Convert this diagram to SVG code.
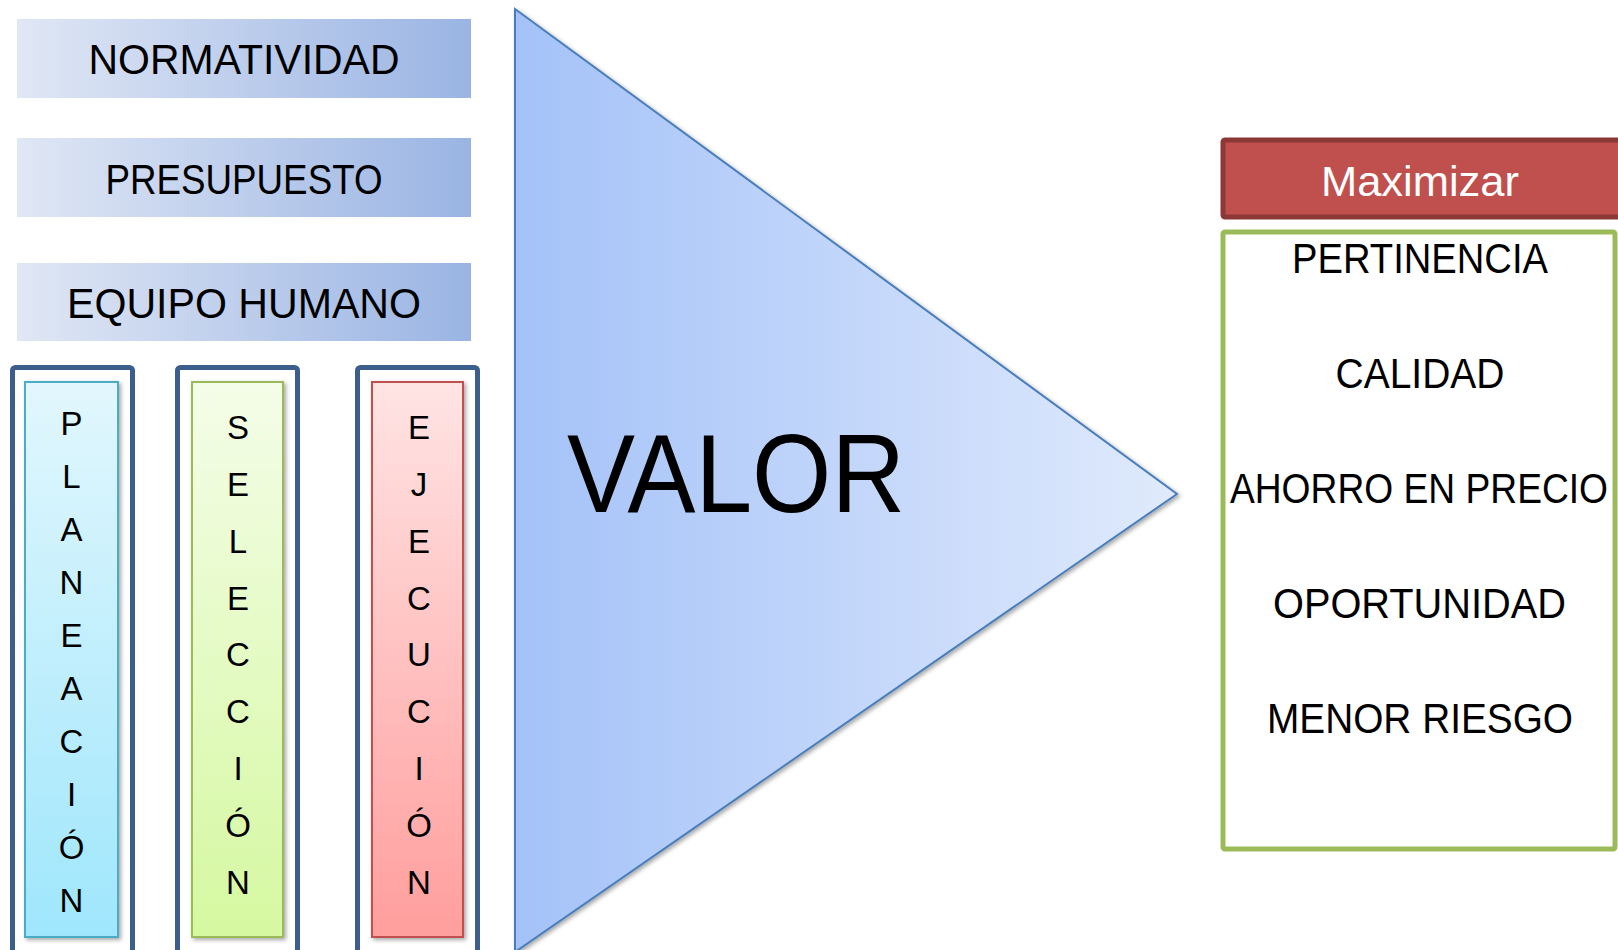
<svg xmlns="http://www.w3.org/2000/svg" width="1618" height="950" viewBox="0 0 1618 950">
<style>
.t{font-family:"Liberation Sans",Arial,sans-serif;fill:#000;text-anchor:middle}
.h{font-size:43px}
.v{font-size:33px}
.frame{fill:#fff;stroke:#3b5e8c;stroke-width:5}
</style>
<defs>
<linearGradient id="gTop" x1="0" y1="0" x2="1" y2="0">
<stop offset="0" stop-color="#e0e7f5"/><stop offset="1" stop-color="#9ab4e3"/>
</linearGradient>
<linearGradient id="gTri" x1="0" y1="0" x2="1" y2="0">
<stop offset="0" stop-color="#a4c2f8"/><stop offset="1" stop-color="#e0eafc"/>
</linearGradient>
<linearGradient id="gBlue" x1="0" y1="0" x2="0" y2="1">
<stop offset="0" stop-color="#e2f7fd"/><stop offset="1" stop-color="#9fe6fc"/>
</linearGradient>
<linearGradient id="gGreen" x1="0" y1="0" x2="0" y2="1">
<stop offset="0" stop-color="#f4fde8"/><stop offset="1" stop-color="#d5f8a0"/>
</linearGradient>
<linearGradient id="gRed" x1="0" y1="0" x2="0" y2="1">
<stop offset="0" stop-color="#ffe4e4"/><stop offset="1" stop-color="#ff9e9d"/>
</linearGradient>
<filter id="sh" x="-10%" y="-10%" width="125%" height="125%">
<feDropShadow dx="2" dy="2" stdDeviation="2" flood-color="#000" flood-opacity="0.35"/>
</filter>
</defs>

<g id="normatividad">
<rect x="17" y="19" width="454" height="79" fill="url(#gTop)"/>
<text class="t h" x="244" y="74" textLength="311" lengthAdjust="spacingAndGlyphs">NORMATIVIDAD</text>
</g>
<g id="presupuesto">
<rect x="17" y="138" width="454" height="79" fill="url(#gTop)"/>
<text class="t h" x="244" y="194" textLength="277" lengthAdjust="spacingAndGlyphs">PRESUPUESTO</text>
</g>
<g id="equipo-humano">
<rect x="17" y="263" width="454" height="78" fill="url(#gTop)"/>
<text class="t h" x="244" y="318" textLength="354" lengthAdjust="spacingAndGlyphs">EQUIPO HUMANO</text>
</g>

<g id="planeacion">
<rect class="frame" x="12.5" y="367.5" width="120" height="600" rx="3"/>
<rect x="25" y="382" width="93" height="555" fill="url(#gBlue)" stroke="#4bacc6" stroke-width="2" filter="url(#sh)"/>
<g class="t v">
<text x="71.5" y="435">P</text><text x="71.5" y="488">L</text><text x="71.5" y="541">A</text><text x="71.5" y="594">N</text><text x="71.5" y="647">E</text><text x="71.5" y="700">A</text><text x="71.5" y="753">C</text><text x="71.5" y="806">I</text><text x="71.5" y="859">Ó</text><text x="71.5" y="912">N</text>
</g>
</g>

<g id="seleccion">
<rect class="frame" x="177.5" y="367.5" width="120" height="600" rx="3"/>
<rect x="192" y="382" width="91" height="555" fill="url(#gGreen)" stroke="#9bbb59" stroke-width="2" filter="url(#sh)"/>
<g class="t v">
<text x="238" y="439">S</text><text x="238" y="496">E</text><text x="238" y="553">L</text><text x="238" y="610">E</text><text x="238" y="666">C</text><text x="238" y="723">C</text><text x="238" y="780">I</text><text x="238" y="837">Ó</text><text x="238" y="894">N</text>
</g>
</g>

<g id="ejecucion">
<rect class="frame" x="357.5" y="367.5" width="120" height="600" rx="3"/>
<rect x="372" y="382" width="91" height="555" fill="url(#gRed)" stroke="#c0504d" stroke-width="2" filter="url(#sh)"/>
<g class="t v">
<text x="419" y="439">E</text><text x="419" y="496">J</text><text x="419" y="553">E</text><text x="419" y="610">C</text><text x="419" y="666">U</text><text x="419" y="723">C</text><text x="419" y="780">I</text><text x="419" y="837">Ó</text><text x="419" y="894">N</text>
</g>
</g>

<g id="valor">
<polygon points="515,9 1177,494 515,952" fill="url(#gTri)" stroke="#4a7ebb" stroke-width="2" filter="url(#sh)"/>
<text class="t" x="736" y="512" font-size="112" textLength="338" lengthAdjust="spacingAndGlyphs">VALOR</text>
</g>

<g id="connectors"></g>

<g id="maximizar">
<rect x="1223" y="140" width="400" height="77" rx="2" fill="#c0504d" stroke="#8c3836" stroke-width="5"/>
<text class="t h" x="1420" y="196" style="fill:#fff" textLength="198" lengthAdjust="spacingAndGlyphs">Maximizar</text>
</g>

<g id="beneficios">
<rect x="1223" y="232" width="392" height="617" rx="2" fill="#fff" stroke="#9bbb59" stroke-width="5"/>
<text class="t h" x="1420" y="273" textLength="256" lengthAdjust="spacingAndGlyphs">PERTINENCIA</text>
<text class="t h" x="1420" y="388" textLength="169" lengthAdjust="spacingAndGlyphs">CALIDAD</text>
<g transform="translate(1419,503) scale(0.865,1)">
<text class="t h" x="0" y="0">AHORRO EN PRECIO</text>
</g>
<text class="t h" x="1419.5" y="618" textLength="293" lengthAdjust="spacingAndGlyphs">OPORTUNIDAD</text>
<text class="t h" x="1420" y="733" textLength="306" lengthAdjust="spacingAndGlyphs">MENOR RIESGO</text>
</g>
</svg>
